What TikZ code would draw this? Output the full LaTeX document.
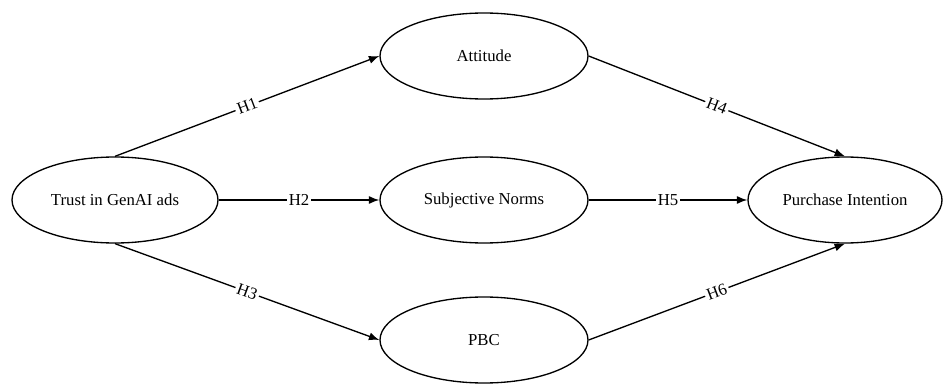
\documentclass[tikz,border=0pt]{standalone}
\usepackage{fontspec}
\setmainfont{Liberation Serif}
\usetikzlibrary{arrows.meta,shapes.geometric}

\begin{document}
\begin{tikzpicture}[every node/.style={font=\fontsize{11.9}{13}\selectfont},
  construct/.style={ellipse, draw, line width=0.95pt, minimum width=5.2cm, minimum height=2.15cm, inner sep=0pt},
  path/.style={line width=0.95pt, -{Latex[length=2.6mm,width=2mm]}},
  hyp/.style={fill=white, inner sep=1.5pt, sloped}]
  \useasboundingbox (0,0) rectangle (23.6,9.575);
  % constructs
  \node[construct, minimum width=5.15cm] (trust) at (2.875,4.575) {Trust in GenAI ads};
  \node[construct] (att) at (12.1,8.175) {Attitude};
  \node[construct] (sn) at (12.1,4.575) {Subjective Norms};
  \node[construct] (pbc) at (12.1,1.075) {PBC};
  \node[construct, minimum width=4.85cm] (pi) at (21.125,4.575) {Purchase Intention};
  % hypotheses
  \draw[path] (trust.north) -- node[hyp] {H1} (att.west);
  \draw[path] (trust.east) -- node[hyp] {H2} (sn.west);
  \draw[path] (trust.south) -- node[hyp] {H3} (pbc.west);
  \draw[path] (att.east) -- node[hyp] {H4} (pi.north);
  \draw[path] (sn.east) -- node[hyp] {H5} (pi.west);
  \draw[path] (pbc.east) -- node[hyp] {H6} (pi.south);
\end{tikzpicture}
\end{document}
